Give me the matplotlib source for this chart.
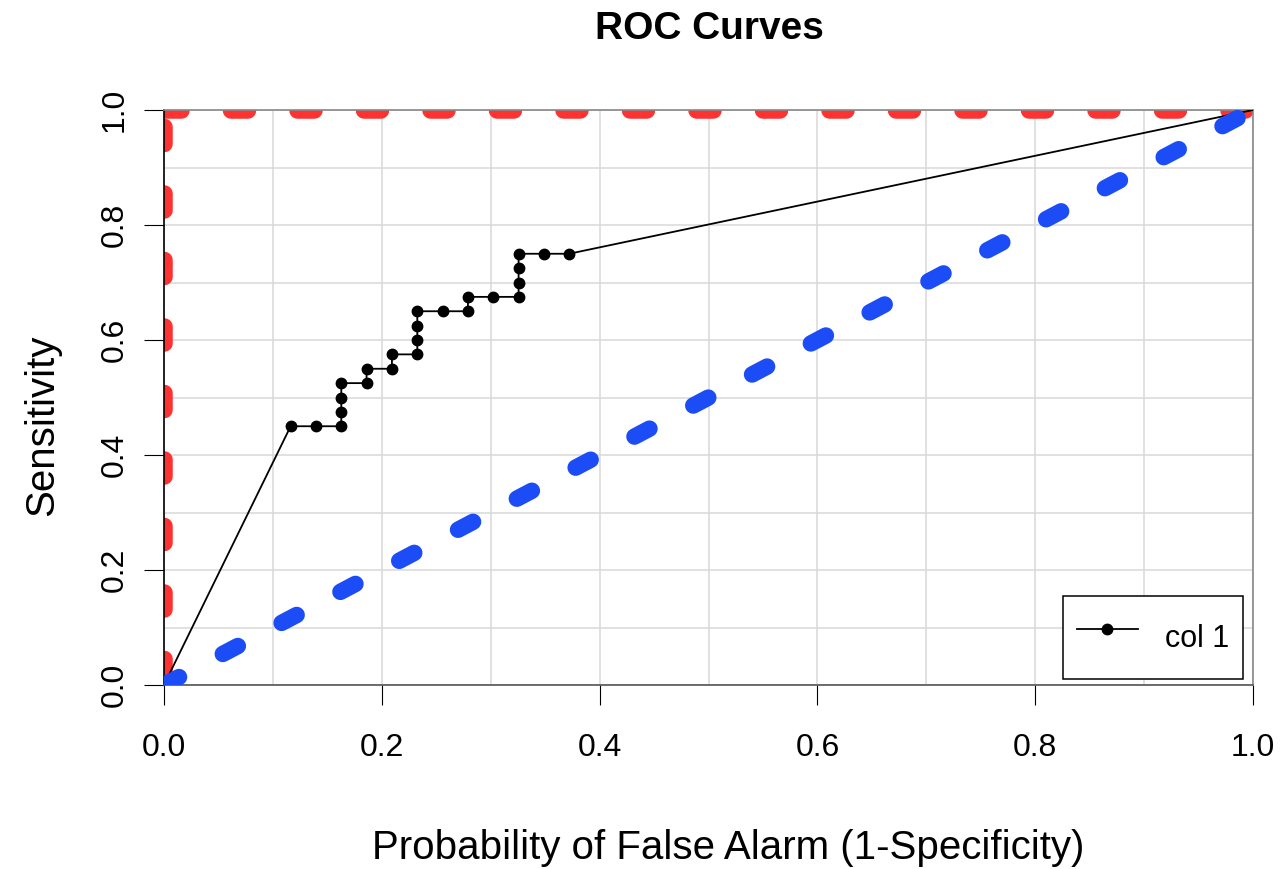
import matplotlib
matplotlib.use("Agg")
import matplotlib.pyplot as plt
from matplotlib.lines import Line2D

plt.rcParams['font.family'] = ['Liberation Sans', 'DejaVu Sans']
plt.rcParams['lines.scale_dashes'] = False

# ROC curve data (col 1)
fpr = [0.0, 0.1163, 0.1395, 0.1628, 0.1628, 0.1628, 0.1628, 0.1860, 0.1860,
       0.2093, 0.2093, 0.2326, 0.2326, 0.2326, 0.2326, 0.2558, 0.2791, 0.2791,
       0.3023, 0.3256, 0.3256, 0.3256, 0.3256, 0.3488, 0.3721, 1.0]
tpr = [0.0, 0.45, 0.45, 0.45, 0.475, 0.5, 0.525, 0.525, 0.55,
       0.55, 0.575, 0.575, 0.6, 0.625, 0.65, 0.65, 0.65, 0.675,
       0.675, 0.675, 0.7, 0.725, 0.75, 0.75, 0.75, 1.0]

# Perfect classifier reference
perfect_x = [0.0, 0.0, 1.0]
perfect_y = [0.0, 1.0, 1.0]
# Chance diagonal
chance_x = [0.0, 1.0]
chance_y = [0.0, 1.0]

ticks = [0.0, 0.2, 0.4, 0.6, 0.8, 1.0]
tick_labels = ["0.0", "0.2", "0.4", "0.6", "0.8", "1.0"]
grid_vals = [i / 10 for i in range(11)]

W, H = 1286, 869
fig = plt.figure(figsize=(W / 100, H / 100), dpi=100)
L, R, T, B = 164, 1253, 110, 685
ax = fig.add_axes([L / W, 1 - B / H, (R - L) / W, (B - T) / H])
ax.set_xlim(0, 1)
ax.set_ylim(0, 1)

for g in grid_vals:
    ax.axvline(g, color='#d9d9d9', lw=1.1, zorder=0.5)
    ax.axhline(g, color='#d9d9d9', lw=1.1, zorder=0.5)

px = 0.72  # px -> pt
lw_thick = 16.5 * px
on, off = 17 * px, 49.5 * px
red = '#ff3232'
blue = '#1c4cf6'

# red perfect line: vertical then horizontal part
ax.plot(perfect_x[0:2], perfect_y[0:2], color=red, lw=lw_thick,
        linestyle=(57 * px, (on, off)), dash_capstyle='round', solid_capstyle='round', zorder=2)
ax.plot(perfect_x[1:3], perfect_y[1:3], color=red, lw=lw_thick,
        linestyle=(0, (on, off)), dash_capstyle='round', zorder=2)

ax.plot(fpr, tpr, color='black', lw=1.3, marker='o', markersize=7.5,
        markevery=list(range(1, len(fpr) - 1)), zorder=3)

ax.plot(chance_x, chance_y, color=blue, lw=lw_thick,
        linestyle=(0, (on, off)), dash_capstyle='round', zorder=4)

ax.set_xticks(ticks)
ax.set_xticklabels(tick_labels)
ax.set_yticks(ticks)
ax.set_yticklabels(tick_labels, rotation=90, va='center')
ax.tick_params(axis='both', length=14.4, width=0.8, direction='out', labelsize=23, colors='black')
ax.tick_params(axis='x', pad=20)
ax.tick_params(axis='y', pad=10)

for s in ['top', 'right']:
    ax.spines[s].set_color('#888888')
    ax.spines[s].set_linewidth(1.2)
ax.spines['left'].set_color('black')
ax.spines['bottom'].set_color('#555555')
ax.spines['left'].set_linewidth(1.2)
ax.spines['bottom'].set_linewidth(1.2)

handle = Line2D([0], [0], color='black', lw=1.3, marker='o', markersize=7.5)
leg = ax.legend([handle], ['col 1'], loc='lower right', bbox_to_anchor=(0.991, 0.0104),
                borderaxespad=0, fontsize=22, frameon=True, fancybox=False,
                edgecolor='black', handlelength=2.0, handletextpad=0.9, borderpad=0.45,
                handleheight=2.4)
leg.get_frame().set_linewidth(1.1)
leg.get_frame().set_alpha(1)

fig.text(709 / W, 1 - 29 / H, 'ROC Curves', ha='center', va='center', fontsize=28, fontweight='bold')
fig.text(728 / W, 1 - 848 / H, 'Probability of False Alarm (1-Specificity)', ha='center',
         va='center', fontsize=29)
fig.text(42 / W, 1 - 425 / H, 'Sensitivity', ha='center', va='center', fontsize=29, rotation=90)

fig.savefig('out.png', dpi=100)
